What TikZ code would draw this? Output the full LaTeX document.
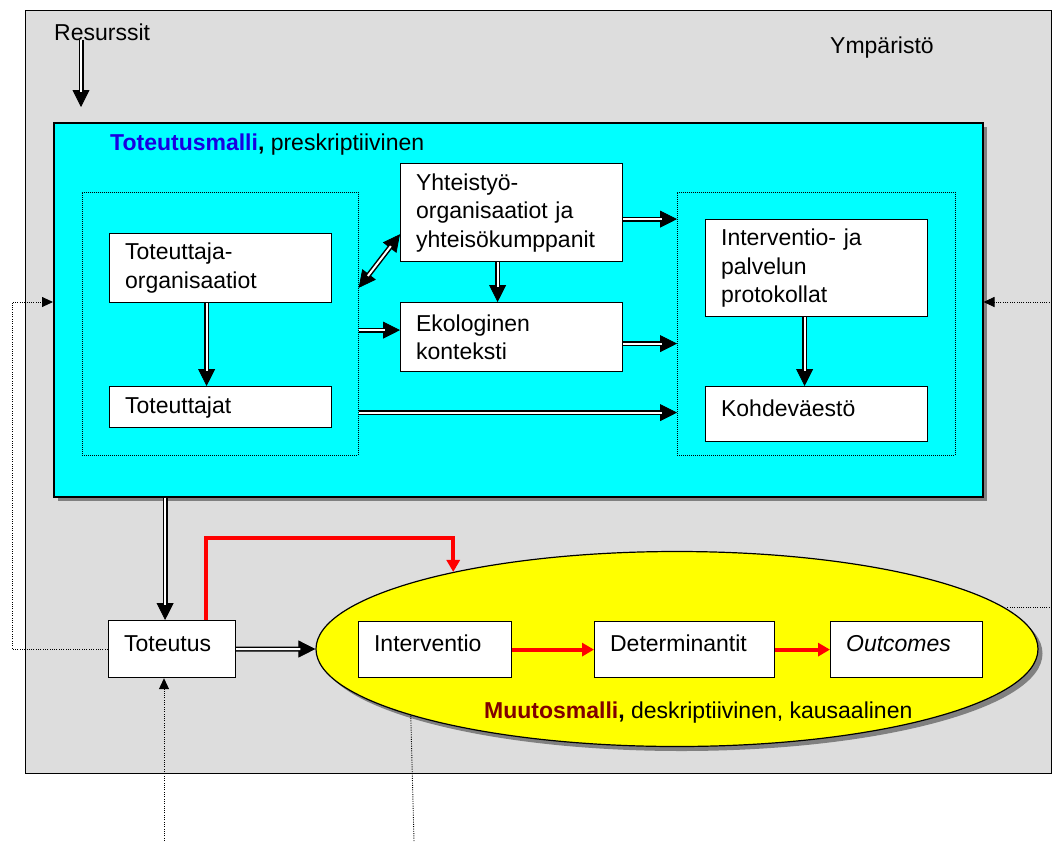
\documentclass[tikz,border=0pt]{standalone}
\usepackage{fontspec}
\setmainfont{Liberation Sans}
\usetikzlibrary{arrows.meta,shapes.geometric,shadows}
\definecolor{envgray}{RGB}{221,221,221}
\definecolor{shadowgray}{RGB}{128,128,128}
\definecolor{cyanfill}{RGB}{0,255,255}
\definecolor{yellowfill}{RGB}{255,255,0}
\definecolor{titleblue}{RGB}{25,0,225}
\definecolor{darkred}{RGB}{128,0,0}
\definecolor{arrowred}{RGB}{255,0,0}
\newcommand{\fs}{\fontsize{23}{28.5}\selectfont}
\newcommand{\upstrut}{\rule[-12pt]{0pt}{12pt}}
\tikzset{
  box/.style={draw, fill=white, line width=1.2pt, anchor=north west, align=left,
    inner xsep=15.5pt, inner ysep=0pt, font=\fs},
  grp/.style={draw, line width=0.7pt, dash pattern=on 1pt off 1pt, anchor=north west,
    inner sep=0pt},
  dbl/.style={postaction={draw, line width=0.8pt, -{Triangle[length=17pt,width=17pt]}},
    postaction={draw, double=white, double distance=2pt, line width=1.5pt, shorten >=15pt}},
  dblboth/.style={postaction={draw, line width=0.8pt, {Triangle[length=17pt,width=17pt]}-{Triangle[length=17pt,width=17pt]}},
    postaction={draw, double=white, double distance=2pt, line width=1.5pt, shorten >=15pt, shorten <=15pt}},
  redarrow/.style={draw=arrowred, line width=4pt, -{Triangle[length=12pt,width=13pt]}},
  dotline/.style={draw=black, line width=0.9pt, dash pattern=on 1pt off 1.3pt},
  dotarrow/.style={dotline, -{Triangle[length=11pt,width=10pt]}},
  txt/.style={font=\fs, inner sep=0pt},
}
\begin{document}
\begin{tikzpicture}[x=1pt,y=-1pt]
\useasboundingbox (0,0) rectangle (1052,841);
% environment
\node[draw, line width=1.2pt, fill=envgray, anchor=north west, inner sep=0pt,
  minimum width=1026pt, minimum height=763pt] (env) at (25,10) {};
\node[txt, anchor=base west] (res) at (54,40) {Resurssit};
\node[txt, anchor=base west] (ymp) at (830,53) {Ympäristö};
\coordinate (rs) at (81,40);
\coordinate (re) at (81,107);
\path[dbl] (rs) -- (re);
% implementation model
\node[draw, line width=1.5pt, fill=cyanfill, anchor=north west, inner sep=0pt,
  minimum width=929pt, minimum height=374pt,
  drop shadow={shadow xshift=4.5pt, shadow yshift=-4.5pt, fill=shadowgray, opacity=1}] (cyan) at (53,122) {};
\node[txt, anchor=base west] (ttl) at (110,150) {\textcolor{titleblue}{\bfseries Toteutusmalli}\textbf{,} preskriptiivinen};
\node[grp, minimum width=276pt, minimum height=263pt] (lgrp) at (82,192) {};
\node[grp, minimum width=278pt, minimum height=263pt] (rgrp) at (677,192) {};
\node[box, text width=191pt, minimum height=69pt] (org) at (109,233) {Toteuttaja-\\organisaatiot};
\node[box, text width=191pt, minimum height=41pt] (tja) at (109,386) {Toteuttajat};
\node[box, text width=191pt, minimum height=98pt] (yht) at (400,163) {Yhteistyö-\\organisaatiot ja\\yhteisökumppanit};
\node[box, text width=191pt, minimum height=69pt] (eko) at (400,302) {Ekologinen\\konteksti};
\node[box, text width=191pt, minimum height=97pt] (prot) at (705,219) {Interventio- ja\\palvelun\\protokollat};
\node[box, text width=191pt, minimum height=55pt] (koh) at (705,386) {Kohdeväestö\upstrut};
% arrows inside
\coordinate (a1) at ([xshift=-14pt]org.south);
\path[dbl] (a1) -- (a1 |- tja.north);
\coordinate (a2) at ([xshift=-14pt]yht.south);
\path[dbl] (a2) -- (a2 |- eko.north);
\coordinate (a3) at ([xshift=-12pt]prot.south);
\path[dbl] (a3) -- (a3 |- koh.north);
\path[dblboth] ([yshift=36pt]lgrp.east) -- ([yshift=28pt]yht.south west);
\coordinate (a4) at ([yshift=7pt]eko.west);
\path[dbl] (lgrp.east |- a4) -- (a4);
\coordinate (a5) at ([yshift=-6.5pt]yht.east);
\path[dbl] (a5) -- (rgrp.west |- a5);
\coordinate (a6) at ([yshift=-6.5pt]eko.east);
\path[dbl] (a6) -- (rgrp.west |- a6);
\coordinate (a7) at ([yshift=-5.5pt]tja.east);
\path[dbl] (lgrp.east |- a7) -- (rgrp.west |- a7);
% change model
\node[ellipse, draw, line width=1.2pt, fill=yellowfill, inner sep=0pt,
  minimum width=722pt, minimum height=195pt,
  drop shadow={shadow xshift=4.5pt, shadow yshift=-4.5pt, fill=shadowgray, opacity=1}] (ell) at (677,649) {};
\node[box, text width=96pt, minimum height=57pt] (tot) at (108,620) {Toteutus\upstrut};
\node[box, text width=122pt, minimum height=56pt] (iv) at (358,621) {Interventio\upstrut};
\node[box, text width=149pt, minimum height=56pt] (det) at (594,621) {Determinantit\upstrut};
\node[box, text width=121pt, minimum height=56pt] (out) at (830,621) {\itshape Outcomes\upstrut};
\node[txt, anchor=base west] (mtt) at (484,718) {\textcolor{darkred}{\bfseries Muutosmalli}\textbf{,} deskriptiivinen, kausaalinen};
\coordinate (tn) at ([xshift=-7pt]tot.north);
\path[dbl] (cyan.south -| tn) -- (tn);
\path[dbl] (tot.east) -- (ell.west);
\draw[redarrow] ([xshift=34pt]tot.north) -- ++(0,-82) -| (ell.161);
\draw[redarrow] (iv.east) -- (det.west);
\draw[redarrow] (det.east) -- (out.west);
% dotted external influences
\coordinate (lx) at (12,302);
\draw[dotarrow] (tot.west) -| (lx) -- (cyan.west |- lx);
\coordinate (rx) at (1052,302);
\draw[dotarrow] (rx) -- (cyan.east |- rx);
\coordinate (bx) at (164,841);
\draw[dotarrow] (bx) -- (bx |- tot.south);
\coordinate (ex) at (414,841);
\draw[dotline] (ex) -- (ell.194.25);
\coordinate (erx) at (1052,607);
\draw[dotline] (erx) -- (ell.7.5 |- erx);
\end{tikzpicture}
\end{document}
